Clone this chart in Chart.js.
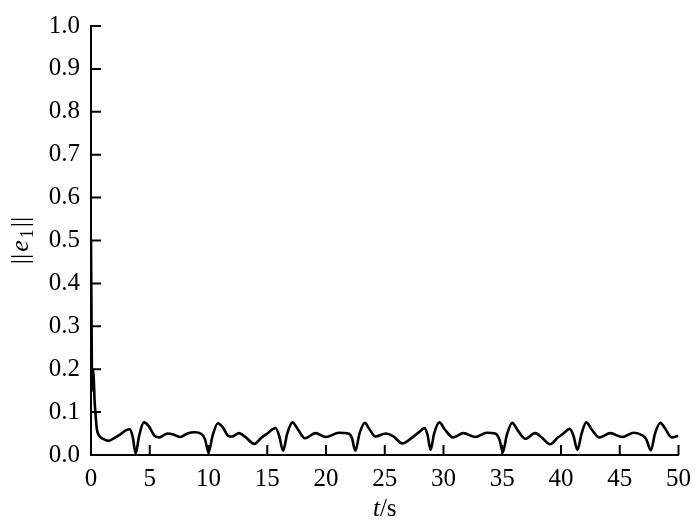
<!DOCTYPE html>
<html>
<head>
<meta charset="utf-8">
<script src="https://cdn.jsdelivr.net/npm/chart.js@4.4.1/dist/chart.umd.min.js"></script>
<style>
  html, body { margin: 0; padding: 0; background: #fff; }
  #wrap { width: 700px; height: 526px; }
</style>
</head>
<body>
<div id="wrap"><canvas id="c" width="700" height="526"></canvas></div>
<script>
// Time samples (s)
const times = [
  0, 0.05, 0.1, 0.15, 0.2, 0.25, 0.3, 0.4, 0.5, 0.7, 1.0, 1.5, 2.0, 2.5, 3.0, 3.3, 3.55, 3.8,
  4.1, 4.5, 4.9, 5.4, 5.8, 6.5, 7.0, 7.6, 8.2, 8.8, 9.4, 9.7, 10.0,
  10.35, 10.8, 11.2, 11.7, 12.0, 12.6, 13.1, 13.9, 14.5, 15.0, 15.7, 16.0, 16.35,
  16.7, 17.15, 17.6, 18.2, 19.1, 20.0, 21.1, 21.9, 22.2, 22.5,
  22.85, 23.3, 23.7, 24.2, 25.1, 25.7, 26.5, 27.3, 28.0, 28.4, 28.65, 28.9,
  29.2, 29.65, 30.1, 30.8, 31.7, 32.7, 33.7, 34.4, 34.75, 35.05,
  35.4, 35.85, 36.3, 36.97, 37.8, 38.4, 39.07, 39.7, 40.2, 40.75, 41.05, 41.4,
  41.75, 42.15, 42.6, 43.25, 44.2, 45.2, 46.2, 46.9, 47.25, 47.65,
  48.0, 48.45, 48.9, 49.4, 50.0
];
// ||e1|| values
const errNorm = [
  0.50, 0.30, 0.15, 0.20, 0.19, 0.17, 0.13, 0.09, 0.06, 0.045, 0.038, 0.033, 0.040, 0.048, 0.058, 0.060, 0.042, 0.004,
  0.045, 0.076, 0.068, 0.045, 0.041, 0.050, 0.048, 0.042, 0.050, 0.053, 0.049, 0.037, 0.006,
  0.045, 0.074, 0.065, 0.044, 0.043, 0.051, 0.043, 0.026, 0.040, 0.050, 0.063, 0.046, 0.010,
  0.050, 0.076, 0.060, 0.039, 0.051, 0.042, 0.052, 0.050, 0.040, 0.010,
  0.050, 0.075, 0.060, 0.043, 0.050, 0.044, 0.027, 0.040, 0.055, 0.063, 0.046, 0.012,
  0.050, 0.076, 0.060, 0.041, 0.051, 0.042, 0.052, 0.050, 0.037, 0.007,
  0.048, 0.075, 0.058, 0.038, 0.051, 0.040, 0.025, 0.040, 0.050, 0.061, 0.046, 0.012,
  0.050, 0.076, 0.060, 0.041, 0.051, 0.042, 0.052, 0.046, 0.037, 0.011,
  0.050, 0.075, 0.060, 0.041, 0.045
];
const xTickValues = [0, 5, 10, 15, 20, 25, 30, 35, 40, 45, 50];
const yTickLabels = ['0.0', '0.1', '0.2', '0.3', '0.4', '0.5', '0.6', '0.7', '0.8', '0.9', '1.0'];
const xTitleParts = [['t', 'italic'], ['/s', 'normal']];
const yTitleParts = [['||', 'normal', 0], ['e', 'italic', 0], ['1', 'normal', 1], ['||', 'normal', 0]];

const FONT = "'Liberation Serif', 'Times New Roman', serif";
const FS = 25;

const points = times.map((t, i) => ({ x: t, y: errNorm[i] }));

const inwardTicks = {
  id: 'inwardTicks',
  afterDatasetsDraw(chart) {
    const ctx = chart.ctx;
    const xs = chart.scales.x, ys = chart.scales.y;
    const len = 10;
    ctx.save();
    ctx.strokeStyle = '#000';
    ctx.lineWidth = 2;
    ctx.beginPath();
    xs.ticks.forEach(tk => {
      const px = xs.getPixelForValue(tk.value);
      ctx.moveTo(px, ys.bottom);
      ctx.lineTo(px, ys.bottom - len);
    });
    ys.ticks.forEach(tk => {
      const py = ys.getPixelForValue(tk.value);
      ctx.moveTo(xs.left, py);
      ctx.lineTo(xs.left + len, py);
    });
    ctx.stroke();
    ctx.restore();
  }
};

const titles = {
  id: 'titles',
  afterDraw(chart) {
    const ctx = chart.ctx;
    const area = chart.chartArea;
    ctx.save();
    ctx.fillStyle = '#000';
    ctx.textBaseline = 'alphabetic';
    // x title
    let total = 0;
    xTitleParts.forEach(([s, st]) => { ctx.font = st + ' ' + FS + 'px ' + FONT; total += ctx.measureText(s).width; });
    let x = (area.left + area.right) / 2 - total / 2;
    const yBase = 516;
    xTitleParts.forEach(([s, st]) => {
      ctx.font = st + ' ' + FS + 'px ' + FONT;
      ctx.fillText(s, x, yBase);
      x += ctx.measureText(s).width;
    });
    // y title (rotated)
    ctx.translate(28, (area.top + area.bottom) / 2);
    ctx.rotate(-Math.PI / 2);
    const gap = 2;
    total = 0;
    yTitleParts.forEach(([s, st, sub]) => {
      ctx.font = st + ' ' + (sub ? 18 : 26) + 'px ' + FONT;
      total += ctx.measureText(s).width + gap;
    });
    total -= gap;
    x = -total / 2;
    yTitleParts.forEach(([s, st, sub]) => {
      ctx.font = st + ' ' + (sub ? 18 : 26) + 'px ' + FONT;
      ctx.fillText(s, x, sub ? 5 : 0);
      x += ctx.measureText(s).width + gap;
    });
    ctx.restore();
  }
};

new Chart(document.getElementById('c'), {
  type: 'line',
  data: {
    datasets: [{
      data: points,
      borderColor: '#000',
      borderWidth: 2.6,
      pointRadius: 0,
      fill: false,
      cubicInterpolationMode: 'monotone'
    }]
  },
  options: {
    responsive: false,
    animation: false,
    layout: { padding: { left: 0, top: 20, right: 13, bottom: 0 } },
    plugins: { legend: { display: false }, tooltip: { enabled: false } },
    scales: {
      x: {
        type: 'linear', min: 0, max: 50,
        afterBuildTicks(scale) { scale.ticks = xTickValues.map(v => ({ value: v })); },
        afterFit(scale) { scale.height = 71; },
        grid: { display: false, drawTicks: false },
        border: { display: true, color: '#000', width: 2 },
        ticks: {
          color: '#000', padding: 9, maxRotation: 0, autoSkip: false,
          font: { family: FONT, size: FS },
          callback: v => String(v)
        }
      },
      y: {
        type: 'linear', min: 0, max: 1,
        afterBuildTicks(scale) { scale.ticks = yTickLabels.map(s => ({ value: parseFloat(s) })); },
        afterFit(scale) { scale.width = 91; },
        grid: { display: false, drawTicks: false },
        border: { display: true, color: '#000', width: 2 },
        ticks: {
          color: '#000', padding: 11, autoSkip: false,
          font: { family: FONT, size: FS },
          callback: (v, i) => yTickLabels[i]
        }
      }
    }
  },
  plugins: [inwardTicks, titles]
});
</script>
</body>
</html>
